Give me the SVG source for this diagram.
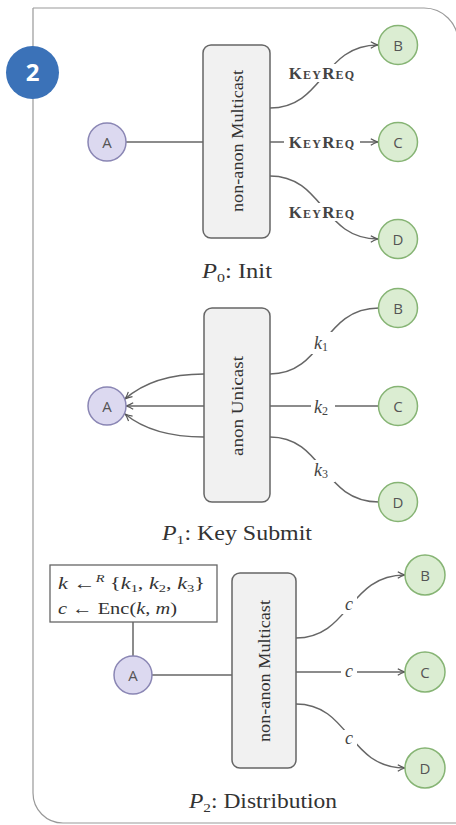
<svg xmlns="http://www.w3.org/2000/svg" width="456" height="825" viewBox="0 0 456 825">
<defs>
<marker id="arr" viewBox="0 0 10 10" refX="9" refY="5" markerWidth="9" markerHeight="9" orient="auto" markerUnits="userSpaceOnUse"><path d="M1,1.5 Q5,4 9,5 Q5,6 1,8.5" fill="none" stroke="#555" stroke-width="1.3"/></marker>
<style>
.edge{fill:none;stroke:#666;stroke-width:1.5}
.bg{fill:#fff}
.na{fill:#dcd9f0;stroke:#8a86b4;stroke-width:1.5}
.nb{fill:#dbedd2;stroke:#86b474;stroke-width:1.5}
.nl{font-family:"Open Sans","DejaVu Sans",sans-serif;font-size:15px;fill:#555;text-anchor:middle;dominant-baseline:central}
.box{fill:#f1f1f1;stroke:#666;stroke-width:1.5}
.bt{font-family:"Liberation Serif",serif;font-size:17px;fill:#333;text-anchor:middle;dominant-baseline:central}
.lbl{font-family:"Liberation Serif",serif;font-size:18px;fill:#444;text-anchor:middle;dominant-baseline:central}
.kr{font-variant:small-caps;font-weight:bold;font-size:17px;letter-spacing:1.2px}
.cap{font-family:"Liberation Serif",serif;font-size:20px;fill:#333;text-anchor:middle}
.note{font-family:"Liberation Serif",serif;font-size:17px;fill:#333}
.it{font-style:italic}
</style>
</defs>
<path d="M33 8 H424 A34 34 0 0 1 458 42" fill="none" stroke="#999" stroke-width="1.2"/>
<path d="M33 8 V793 A30 30 0 0 0 63 823 H460" fill="none" stroke="#999" stroke-width="1.2"/>
<g id="badge"><circle cx="32.5" cy="72.5" r="26.5" fill="#3b72b8"/><text x="32.5" y="81" font-family="Open Sans, sans-serif" font-weight="bold" font-size="24" fill="#fff" text-anchor="middle">2</text></g>

<g id="connectors">
<!-- P0 -->
<path class="edge" d="M126 142 H203"/>
<path class="edge" d="M270 108 C324 108 322 45 378 45" marker-end="url(#arr)"/>
<path class="edge" d="M270 142 H378" marker-end="url(#arr)"/>
<path class="edge" d="M270 176 C324 176 322 239 378 239" marker-end="url(#arr)"/>
<rect class="bg" x="284" y="64" width="76" height="18"/>
<rect class="bg" x="284" y="133" width="76" height="18"/>
<rect class="bg" x="284" y="203" width="76" height="18"/>
<text class="lbl kr" x="322" y="73">KeyReq</text>
<text class="lbl kr" x="322" y="142">KeyReq</text>
<text class="lbl kr" x="322" y="212">KeyReq</text>
<!-- P1 -->
<path class="edge" d="M204 374 C168 374 142 384 125 399" marker-end="url(#arr)"/>
<path class="edge" d="M204 406 H126" marker-end="url(#arr)"/>
<path class="edge" d="M204 437 C168 437 142 428 125 414" marker-end="url(#arr)"/>
<path class="edge" d="M270 374 C324 374 322 308 379 308"/>
<path class="edge" d="M270 406 H379"/>
<path class="edge" d="M270 437 C324 437 322 502 379 502"/>
<rect class="bg" x="311" y="332" width="24" height="22"/>
<rect class="bg" x="311" y="396" width="24" height="22"/>
<rect class="bg" x="311" y="460" width="24" height="22"/>
<text class="lbl" x="321" y="343"><tspan class="it">k</tspan><tspan font-size="12" dy="4">1</tspan></text>
<text class="lbl" x="321" y="407"><tspan class="it">k</tspan><tspan font-size="12" dy="4">2</tspan></text>
<text class="lbl" x="321" y="470"><tspan class="it">k</tspan><tspan font-size="12" dy="4">3</tspan></text>
<!-- P2 -->
<path class="edge" d="M133 622 V656"/>
<path class="edge" d="M152 675 H232"/>
<path class="edge" d="M296 638 C350 638 348 575 405 575" marker-end="url(#arr)"/>
<path class="edge" d="M296 672 H405" marker-end="url(#arr)"/>
<path class="edge" d="M296 704 C350 704 348 768 405 768" marker-end="url(#arr)"/>
<rect class="bg" x="341" y="596" width="16" height="18"/>
<rect class="bg" x="341" y="663" width="16" height="18"/>
<rect class="bg" x="341" y="730" width="16" height="18"/>
<text class="lbl it" x="349" y="604">c</text>
<text class="lbl it" x="349" y="671">c</text>
<text class="lbl it" x="349" y="738">c</text>
</g>

<!-- P0 nodes -->
<g id="p0-A"><circle class="na" cx="107" cy="142" r="19"/><text class="nl" x="107" y="142">A</text></g>
<g id="p0-box"><rect class="box" x="203" y="45" width="67" height="193" rx="8"/><text class="bt" transform="translate(237 141) rotate(-90)" textLength="142" lengthAdjust="spacingAndGlyphs">non-anon Multicast</text></g>
<g id="p0-B"><circle class="nb" cx="398" cy="45" r="19.5"/><text class="nl" x="398" y="45">B</text></g>
<g id="p0-C"><circle class="nb" cx="398" cy="142" r="19.5"/><text class="nl" x="398" y="142">C</text></g>
<g id="p0-D"><circle class="nb" cx="398" cy="239" r="19.5"/><text class="nl" x="398" y="239">D</text></g>
<g id="p0-cap"><text class="cap" x="237" y="278" textLength="70" lengthAdjust="spacingAndGlyphs"><tspan class="it">P</tspan><tspan font-size="13" dy="4">0</tspan><tspan dy="-4">: Init</tspan></text></g>

<!-- P1 nodes -->
<g id="p1-A"><circle class="na" cx="107" cy="406" r="19"/><text class="nl" x="107" y="406">A</text></g>
<g id="p1-box"><rect class="box" x="204" y="308" width="66" height="194" rx="8"/><text class="bt" transform="translate(237 406) rotate(-90)" textLength="100" lengthAdjust="spacingAndGlyphs">anon Unicast</text></g>
<g id="p1-B"><circle class="nb" cx="398" cy="308" r="19.5"/><text class="nl" x="398" y="308">B</text></g>
<g id="p1-C"><circle class="nb" cx="398" cy="406" r="19.5"/><text class="nl" x="398" y="406">C</text></g>
<g id="p1-D"><circle class="nb" cx="398" cy="502" r="19.5"/><text class="nl" x="398" y="502">D</text></g>
<g id="p1-cap"><text class="cap" x="237" y="540" textLength="150" lengthAdjust="spacingAndGlyphs"><tspan class="it">P</tspan><tspan font-size="13" dy="4">1</tspan><tspan dy="-4">: Key Submit</tspan></text></g>

<!-- P2 nodes -->
<g id="p2-note"><rect x="50" y="565" width="167" height="57" fill="#fff" stroke="#666" stroke-width="1.3"/>
<text class="note" x="58" y="589" textLength="147" lengthAdjust="spacingAndGlyphs"><tspan class="it">k</tspan> ←<tspan class="it" font-size="11" dy="-7">R</tspan><tspan dy="7"> {</tspan><tspan class="it">k</tspan><tspan font-size="11" dy="3">1</tspan><tspan dy="-3">, </tspan><tspan class="it">k</tspan><tspan font-size="11" dy="3">2</tspan><tspan dy="-3">, </tspan><tspan class="it">k</tspan><tspan font-size="11" dy="3">3</tspan><tspan dy="-3">}</tspan></text>
<text class="note" x="58" y="614" textLength="119" lengthAdjust="spacingAndGlyphs"><tspan class="it">c</tspan> ← Enc(<tspan class="it">k</tspan>, <tspan class="it">m</tspan>)</text></g>
<g id="p2-A"><circle class="na" cx="133" cy="675" r="19"/><text class="nl" x="133" y="675">A</text></g>
<g id="p2-box"><rect class="box" x="232" y="573" width="64" height="195" rx="8"/><text class="bt" transform="translate(264 671) rotate(-90)" textLength="142" lengthAdjust="spacingAndGlyphs">non-anon Multicast</text></g>
<g id="p2-B"><circle class="nb" cx="425" cy="575" r="20"/><text class="nl" x="425" y="575">B</text></g>
<g id="p2-C"><circle class="nb" cx="425" cy="672" r="20"/><text class="nl" x="425" y="672">C</text></g>
<g id="p2-D"><circle class="nb" cx="425" cy="768" r="20"/><text class="nl" x="425" y="768">D</text></g>
<g id="p2-cap"><text class="cap" x="263" y="808" textLength="148" lengthAdjust="spacingAndGlyphs"><tspan class="it">P</tspan><tspan font-size="13" dy="4">2</tspan><tspan dy="-4">: Distribution</tspan></text></g>
</svg>
